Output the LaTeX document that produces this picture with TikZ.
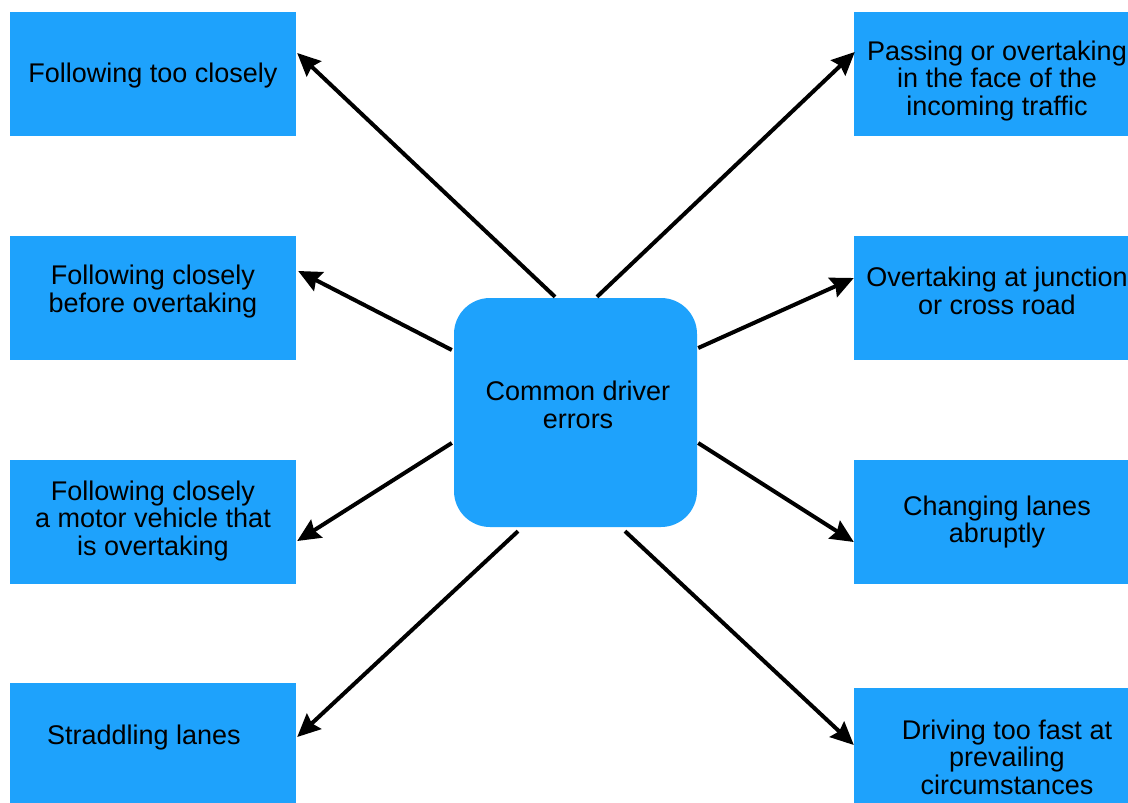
\documentclass[tikz,border=0pt]{standalone}
\usepackage{fontspec}
\setmainfont{Liberation Sans}
\usetikzlibrary{arrows.meta,calc}
\definecolor{boxblue}{RGB}{30,162,252}
\tikzset{
  box/.style={fill=boxblue, draw=none, minimum width=286pt, minimum height=124pt, inner sep=0pt},
  lbl/.style={font=\fontsize{27}{27.5}\selectfont, align=center, inner sep=0pt},
  arr/.style={line width=4pt, -{Stealth[length=23pt,width=21pt,inset=3pt]}, shorten >=0pt}
}
\begin{document}
\begin{tikzpicture}[x=1pt,y=-1pt]
\path[use as bounding box, clip] (0,0) rectangle (1128,803);
\fill[white] (0,0) rectangle (1128,803);
% left boxes
\node[box] (l1) at (153,74) {};
\node[box] (l2) at (153,298) {};
\node[box] (l3) at (153,522) {};
\node[box] (l4) at (153,745) {};
% right boxes
\node[box] (r1) at (997,74) {};
\node[box] (r2) at (997,298) {};
\node[box] (r3) at (997,522) {};
\node[box] (r4) at (997,750) {};
% center
\node[fill=boxblue, rounded corners=36pt, minimum width=243pt, minimum height=229pt, inner sep=0pt] (c) at (575.5,412.5) {};
% labels
\node[lbl] (t1) at (153,76) {Following too closely};
\node[lbl] (t2) at (153,291.5) {Following closely\\before overtaking};
\node[lbl] (t3) at (153,521) {Following closely\\a motor vehicle that\\is overtaking};
\node[lbl] (t4) at (144,738) {Straddling lanes};
\node[lbl] (t5) at (997,81) {Passing or overtaking\\in the face of the\\incoming traffic};
\node[lbl] (t6) at (997,291) {Overtaking at junction\\or cross road};
\node[lbl] (t7) at (997,522) {Changing lanes\\abruptly};
\node[lbl] (t8) at (1007,757) {Driving too fast at\\prevailing\\circumstances};
\node[lbl] (tc) at (578,405) {Common driver\\errors};
% arrows
\draw[arr] ($(c.north)+(-20.5,-1)$) -- ($(l1.east)+(1,-21)$);
\draw[arr] ($(c.west)+(-2,-62.5)$) -- ($(l2.east)+(2,-27)$);
\draw[arr] ($(c.west)+(-2,30.5)$) -- ($(l3.east)+(1,19)$);
\draw[arr] ($(c.south)+(-57.5,4)$) -- ($(l4.east)+(1,-8)$);
\draw[arr] ($(c.north)+(21.5,-1)$) -- ($(r1.west)+(1,-22)$);
\draw[arr] ($(c.east)+(1,-64.5)$) -- ($(r2.west)+(0,-20)$);
\draw[arr] ($(c.east)+(1,30.5)$) -- ($(r3.west)+(0,20)$);
\draw[arr] ($(c.south)+(49.5,4)$) -- ($(r4.west)+(0,-5)$);
\end{tikzpicture}
\end{document}
